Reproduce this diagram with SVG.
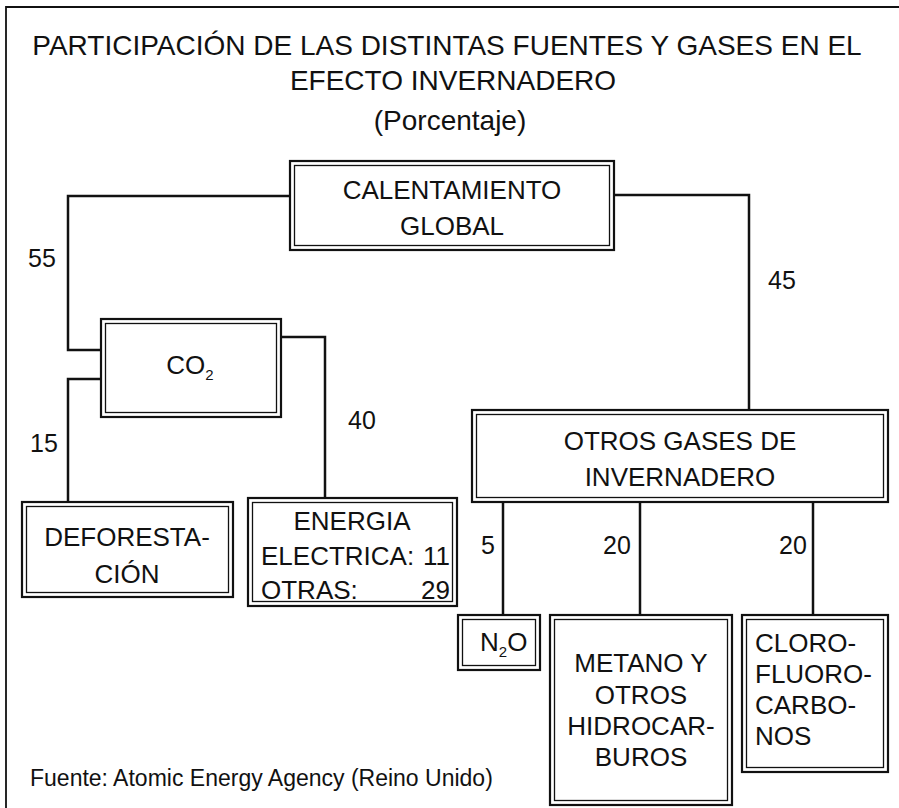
<svg xmlns="http://www.w3.org/2000/svg" width="899" height="808" viewBox="0 0 899 808">
<style>
text{font-family:"Liberation Sans",Arial,sans-serif;fill:#111}
.title{font-size:28px;text-anchor:middle}
.nt{font-size:26px;text-anchor:middle}
.nl{font-size:26px;text-anchor:start}
.lbl{font-size:25px;text-anchor:middle}
.src{font-size:23px}
.outer{fill:#fff;stroke:#111;stroke-width:2.2}
.inner{fill:none;stroke:#111;stroke-width:1.3}
.conn{fill:none;stroke:#111;stroke-width:2.5;stroke-linejoin:miter}
.frame{fill:none;stroke:#111;stroke-width:1.8}
</style>
<rect x="0" y="0" width="899" height="808" fill="#fff"/>
<path class="frame" d="M6,808 V7 H899"/>
<g id="title">
<text class="title" x="447" y="55">PARTICIPACIÓN DE LAS DISTINTAS FUENTES Y GASES EN EL</text>
<text class="title" x="453" y="90">EFECTO INVERNADERO</text>
<text class="title" x="450" y="130">(Porcentaje)</text>
</g>
<g id="connectors">
<path class="conn" d="M290,196 H68 V350 H101"/>
<path class="conn" d="M101,379 H68 V502"/>
<path class="conn" d="M281,337 H325 V498"/>
<path class="conn" d="M614,195 H749 V410"/>
<path class="conn" d="M503,502 V615"/>
<path class="conn" d="M640,502 V615"/>
<path class="conn" d="M813,502 V615"/>
<text class="lbl" x="42" y="267">55</text>
<text class="lbl" x="782" y="289">45</text>
<text class="lbl" x="44" y="452">15</text>
<text class="lbl" x="362" y="429">40</text>
<text class="lbl" x="488" y="554">5</text>
<text class="lbl" x="617" y="554">20</text>
<text class="lbl" x="793" y="554">20</text>
</g>
<g id="calentamiento">
<rect class="outer" x="290" y="161" width="324" height="89"/>
<rect class="inner" x="294.5" y="165.5" width="315" height="80"/>
<text class="nt" x="452" y="199">CALENTAMIENTO</text>
<text class="nt" x="452" y="235">GLOBAL</text>
</g>
<g id="co2">
<rect class="outer" x="101" y="319" width="180" height="98"/>
<rect class="inner" x="105.5" y="323.5" width="171" height="89"/>
<text class="nt" x="190" y="374">CO<tspan font-size="15" dy="6">2</tspan></text>
</g>
<g id="otros">
<rect class="outer" x="472" y="410" width="416" height="92"/>
<rect class="inner" x="476.5" y="414.5" width="407" height="83"/>
<text class="nt" x="680" y="450">OTROS GASES DE</text>
<text class="nt" x="680" y="486">INVERNADERO</text>
</g>
<g id="deforestacion">
<rect class="outer" x="22" y="502" width="211" height="95"/>
<rect class="inner" x="26.5" y="506.5" width="202" height="86"/>
<text class="nt" x="127" y="546">DEFORESTA-</text>
<text class="nt" x="127" y="583">CIÓN</text>
</g>
<g id="energia">
<rect class="outer" x="248" y="498" width="209" height="108"/>
<rect class="inner" x="252.5" y="502.5" width="200" height="99"/>
<text class="nt" x="352" y="530">ENERGIA</text>
<text class="nl" x="261" y="565">ELECTRICA:</text>
<text class="nl" x="450" y="565" style="text-anchor:end">11</text>
<text class="nl" x="261" y="599">OTRAS:</text>
<text class="nl" x="450" y="599" style="text-anchor:end">29</text>
</g>
<g id="n2o">
<rect class="outer" x="458" y="615" width="82" height="55"/>
<rect class="inner" x="462.5" y="619.5" width="73" height="46"/>
<text class="nl" x="480" y="651">N<tspan font-size="15" dy="6">2</tspan><tspan dy="-6">O</tspan></text>
</g>
<g id="metano">
<rect class="outer" x="550" y="615" width="182" height="190"/>
<rect class="inner" x="554.5" y="619.5" width="173" height="181"/>
<text class="nt" x="641" y="672">METANO Y</text>
<text class="nt" x="641" y="704">OTROS</text>
<text class="nt" x="641" y="735">HIDROCAR-</text>
<text class="nt" x="641" y="766">BUROS</text>
</g>
<g id="cloro">
<rect class="outer" x="742" y="615" width="146" height="157"/>
<rect class="inner" x="746.5" y="619.5" width="137" height="148"/>
<text class="nl" x="755" y="652">CLORO-</text>
<text class="nl" x="755" y="683">FLUORO-</text>
<text class="nl" x="755" y="714">CARBO-</text>
<text class="nl" x="755" y="745">NOS</text>
</g>
<g id="source">
<text class="src" x="30" y="786">Fuente: Atomic Energy Agency (Reino Unido)</text>
</g>
</svg>
